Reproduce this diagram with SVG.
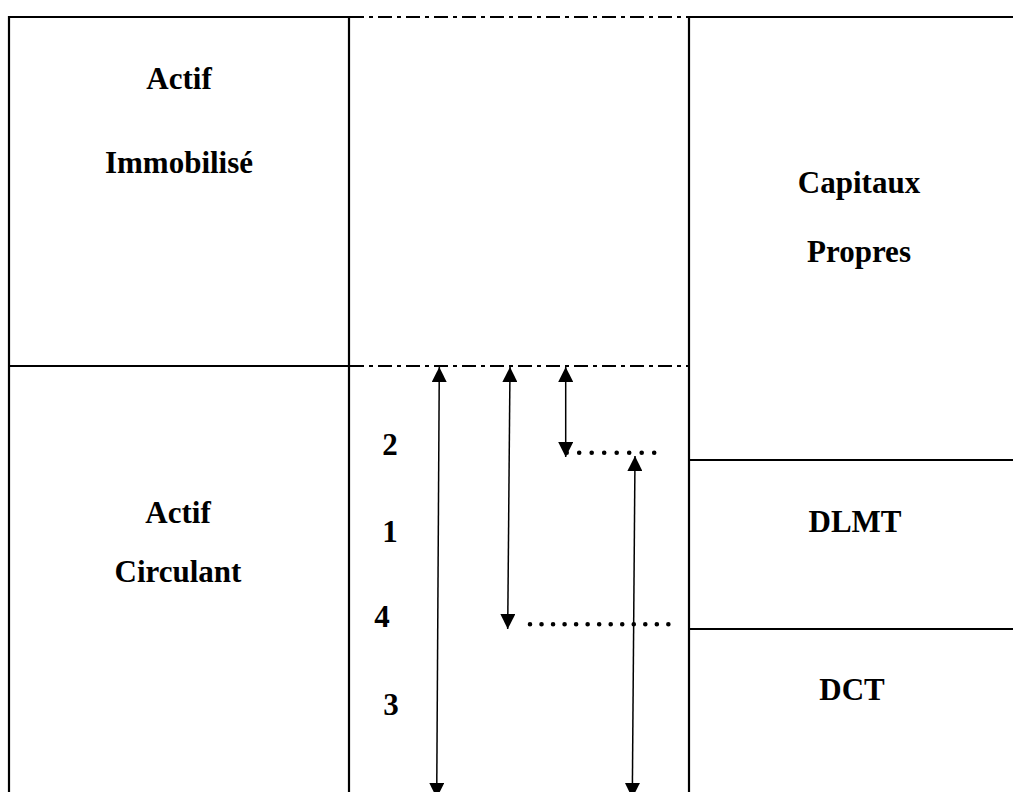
<svg xmlns="http://www.w3.org/2000/svg" width="1013" height="792" viewBox="0 0 1013 792">
  <style>
    .frame { stroke: #000; stroke-width: 2.2; fill: none; }
    .dashdot { stroke: #000; stroke-width: 2; fill: none; stroke-dasharray: 14 5 4 5; }
    .label { font-family: "Liberation Serif", "Times New Roman", serif; font-weight: bold; font-size: 31px; fill: #000; text-anchor: middle; }
    .arrow { stroke: #000; stroke-width: 1.5; fill: none; marker-start: url(#head); marker-end: url(#head); }
    .dots { stroke: #000; stroke-width: 4.6; stroke-linecap: round; fill: none; }
  </style>
  <defs>
    <marker id="head" viewBox="0 0 15 15" refX="15" refY="7.5" markerWidth="15" markerHeight="15" markerUnits="userSpaceOnUse" orient="auto-start-reverse">
      <path d="M0,0 L15,7.5 L0,15 z" fill="#000"/>
    </marker>
  </defs>
  <rect width="1013" height="792" fill="#fff"/>

  <!-- left column: fixed assets -->
  <g id="actif-immobilise">
    <line class="frame" x1="9" y1="17" x2="349" y2="17"/>
    <line class="frame" x1="9" y1="16" x2="9" y2="366"/>
    <text class="label" x="179" y="89">Actif</text>
    <text class="label" x="179" y="173">Immobilisé</text>
  </g>

  <!-- left column: current assets -->
  <g id="actif-circulant">
    <line class="frame" x1="9" y1="366" x2="349" y2="366"/>
    <line class="frame" x1="9" y1="366" x2="9" y2="792"/>
    <text class="label" x="178" y="523">Actif</text>
    <text class="label" x="178" y="582">Circulant</text>
  </g>

  <!-- middle column with dash-dot limits -->
  <g id="colonne-centrale">
    <line class="frame" x1="349" y1="16" x2="349" y2="792"/>
    <line class="frame" x1="689" y1="16" x2="689" y2="792"/>
    <line class="dashdot" x1="350" y1="17" x2="688" y2="17"/>
    <line class="dashdot" x1="350" y1="366" x2="688" y2="366"/>
    <text class="label" x="390" y="455">2</text>
    <text class="label" x="390" y="542">1</text>
    <text class="label" x="382" y="627">4</text>
    <text class="label" x="391" y="715">3</text>
  </g>

  <!-- right column: equity -->
  <g id="capitaux-propres">
    <line class="frame" x1="688" y1="17" x2="1013" y2="17"/>
    <text class="label" x="859" y="193">Capitaux</text>
    <text class="label" x="859" y="262">Propres</text>
  </g>

  <!-- right column: medium/long-term debt -->
  <g id="dlmt">
    <line class="frame" x1="689" y1="460" x2="1013" y2="460"/>
    <text class="label" x="855" y="532">DLMT</text>
  </g>

  <!-- right column: short-term debt -->
  <g id="dct">
    <line class="frame" x1="689" y1="629" x2="1013" y2="629"/>
    <text class="label" x="852" y="700">DCT</text>
  </g>

  <!-- double arrows and dotted levels -->
  <g id="connecteurs">
    <line class="arrow" x1="439.3" y1="367" x2="436.7" y2="798"/>
    <line class="arrow" x1="510" y1="367" x2="507.7" y2="629"/>
    <line class="arrow" x1="565.7" y1="367" x2="565.7" y2="457"/>
    <line class="arrow" x1="635" y1="456" x2="632.3" y2="798"/>
    <line class="dots" x1="566.7" y1="452.7" x2="666.7" y2="452.7" stroke-dasharray="0 12.5"/>
    <line class="dots" x1="530" y1="624.3" x2="668.4" y2="624.3" stroke-dasharray="0 11.53"/>
  </g>
</svg>
